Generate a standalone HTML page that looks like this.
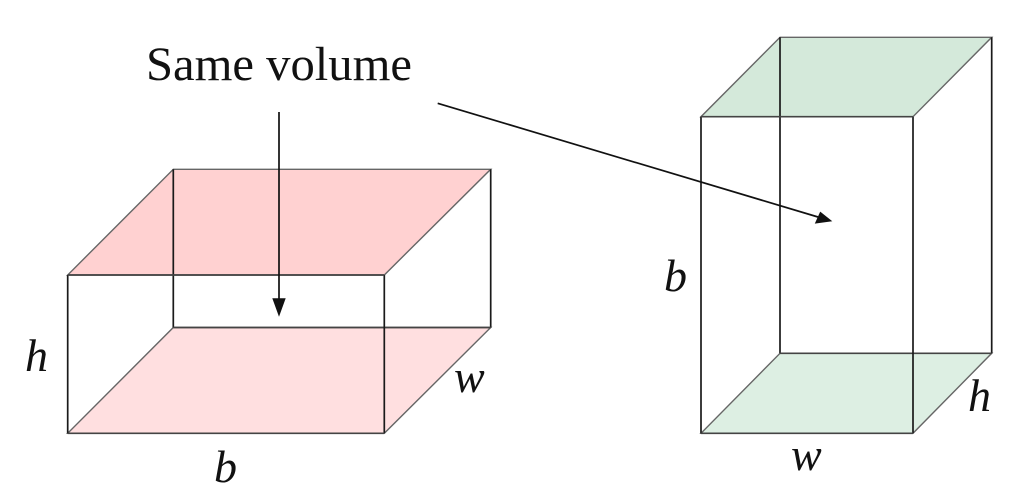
<!DOCTYPE html>
<html>
<head>
<meta charset="utf-8">
<style>
  html, body { margin: 0; padding: 0; background: #ffffff; }
  svg { display: block; }
</style>
</head>
<body>
<svg width="1022" height="504" viewBox="0 0 1022 504" xmlns="http://www.w3.org/2000/svg">
  <rect x="0" y="0" width="1022" height="504" fill="#ffffff"/>

  <!-- LEFT BOX -->
  <polygon points="173.3,327.5 490.7,327.5 384.3,433.3 67.7,433.3" fill="#ffdfe0" stroke="#666" stroke-width="1.4"/>
  <polygon points="173.3,169.3 490.7,169.3 384.3,275 67.7,275" fill="#ffd1d1" stroke="#666" stroke-width="1.4"/>
  <g stroke="#1a1a1a" stroke-width="1.7" fill="none">
    <line x1="173.3" y1="169.3" x2="173.3" y2="327.5"/>
    <line x1="490.7" y1="169.3" x2="490.7" y2="327.5"/>
    <line x1="173.3" y1="327.5" x2="490.7" y2="327.5" stroke="#444"/>
    <line x1="67.7" y1="275" x2="67.7" y2="433.3"/>
    <line x1="384.3" y1="275" x2="384.3" y2="433.3"/>
    <line x1="67.7" y1="275" x2="384.3" y2="275" stroke="#444"/>
    <line x1="67.7" y1="433.3" x2="384.3" y2="433.3" stroke="#444"/>
  </g>

  <!-- RIGHT BOX -->
  <polygon points="780,353.3 991.7,353.3 913,433.3 701,433.3" fill="#ddefe3" stroke="#666" stroke-width="1.4"/>
  <polygon points="780,37.3 991.7,37.3 913,116.7 701,116.7" fill="#d4e9da" stroke="#666" stroke-width="1.4"/>
  <g stroke="#1a1a1a" stroke-width="1.7" fill="none">
    <line x1="780" y1="37.3" x2="780" y2="353.3"/>
    <line x1="991.7" y1="37.3" x2="991.7" y2="353.3"/>
    <line x1="780" y1="353.3" x2="991.7" y2="353.3" stroke="#444"/>
    <line x1="701" y1="116.7" x2="701" y2="433.3"/>
    <line x1="913" y1="116.7" x2="913" y2="433.3"/>
    <line x1="701" y1="116.7" x2="913" y2="116.7" stroke="#444"/>
    <line x1="701" y1="433.3" x2="913" y2="433.3" stroke="#444"/>
  </g>

  <!-- ARROWS -->
  <line x1="279" y1="112" x2="279" y2="300" stroke="#111" stroke-width="1.7"/>
  <polygon points="272.3,298.3 285.7,298.3 279,316.7" fill="#111"/>

  <line x1="437.7" y1="103.3" x2="818" y2="217" stroke="#111" stroke-width="1.7"/>
  <polygon points="832.3,221.3 814.8,223.6 820.2,211.6" fill="#111"/>

  <!-- TEXT -->
  <text x="146" y="80" font-family="'Liberation Serif', serif" font-size="48" textLength="266" lengthAdjust="spacingAndGlyphs" fill="#111">Same volume</text>

  <g font-family="'Liberation Serif', serif" font-style="italic" font-size="46" fill="#111">
    <text x="25" y="371">h</text>
    <text x="214" y="482">b</text>
    <text x="454" y="392">w</text>
    <text x="664" y="291">b</text>
    <text x="791" y="470">w</text>
    <text x="968" y="411">h</text>
  </g>
</svg>
</body>
</html>
